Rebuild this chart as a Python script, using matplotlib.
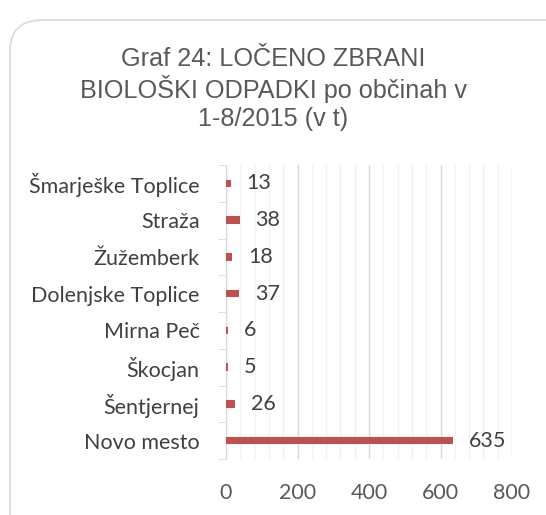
import matplotlib.pyplot as plt
from matplotlib.patches import FancyBboxPatch
from matplotlib.ticker import MultipleLocator
import numpy as np

# data (bottom to top as drawn)
municipalities = ['Novo mesto', 'Šentjernej', 'Škocjan', 'Mirna Peč',
                  'Dolenjske Toplice', 'Žužemberk', 'Straža', 'Šmarješke Toplice']
tonnes = [635, 26, 5, 6, 37, 18, 38, 13]
xticks = [0, 200, 400, 600, 800]

bar_color = '#C0504D'
text_color = '#595959'
label_font = ['Lato', 'DejaVu Sans']

fig = plt.figure(figsize=(5.46, 5.15), dpi=100)

# rounded chart frame
frame = FancyBboxPatch((10/546, -0.2), 1.2, 1.2 - 20/515,
                       boxstyle='round,pad=0,rounding_size=0.06',
                       transform=fig.transFigure, fill=False,
                       edgecolor='#D9D9D9', linewidth=1.2)
fig.patches.append(frame)

fig.text(0.5, 0.827, 'Graf 24: LOČENO ZBRANI\nBIOLOŠKI ODPADKI po občinah v\n1-8/2015 (v t)',
         ha='center', va='center', fontsize=18.2, color=text_color,
         family=['Liberation Sans', 'DejaVu Sans'], linespacing=1.18)

ax = fig.add_axes([226/546, 1 - 459/515, 286/546, 294/515])
y = np.arange(len(municipalities))
ax.barh(y, tonnes, height=0.2, color=bar_color, zorder=3)
for yi, v in zip(y, tonnes):
    ax.annotate(str(v), (v, yi), xytext=(11.5, 0), textcoords='offset points',
                va='center', ha='left', fontsize=15.5, color='#404040', family=label_font)

ax.set_xlim(0, 800)
ax.set_ylim(-0.5, len(municipalities) - 0.5)
ax.set_xticks(xticks)
ax.xaxis.set_minor_locator(MultipleLocator(40))
ax.grid(axis='x', which='major', color='#D9D9D9', linewidth=1, zorder=0)
ax.grid(axis='x', which='minor', color='#F2F2F2', linewidth=1, zorder=0)
ax.tick_params(axis='x', which='both', length=0, pad=17, labelsize=15.5, labelcolor=text_color)
for lab in ax.get_xticklabels():
    lab.set_family(label_font)

ax.set_yticks(y)
ax.set_yticklabels(municipalities, family=label_font)
ax.set_yticks(np.arange(-0.5, len(municipalities)), minor=True)
ax.tick_params(axis='y', which='major', length=0, pad=19, labelsize=15.5, labelcolor='#404040')
ax.tick_params(axis='y', which='minor', length=6, color='#D9D9D9')

for s in ['top', 'right', 'bottom']:
    ax.spines[s].set_visible(False)
ax.spines['left'].set_color('#D9D9D9')

fig.savefig('out.png', dpi=100)
